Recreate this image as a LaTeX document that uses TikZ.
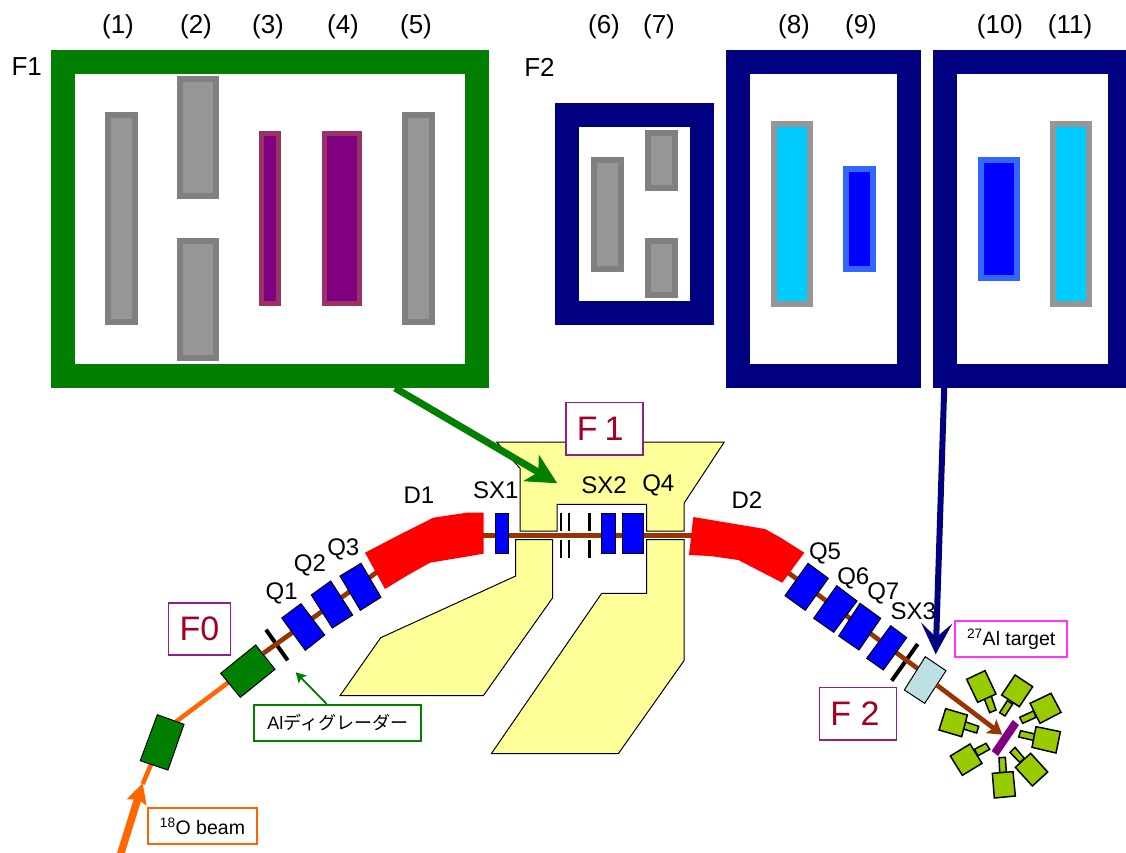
\documentclass[tikz,border=0pt]{standalone}
\usepackage{fontspec}
\setmainfont{Liberation Sans}
\newfontfamily\jpfont{Noto Sans CJK JP}
\usetikzlibrary{arrows.meta}
\definecolor{fgreen}{HTML}{007F00}
\definecolor{fnavy}{HTML}{000080}
\definecolor{gfill}{HTML}{969696}
\definecolor{gedge}{HTML}{808080}
\definecolor{pfill}{HTML}{800080}
\definecolor{pedge}{HTML}{993366}
\definecolor{cfill}{HTML}{00CCFF}
\definecolor{bfill}{HTML}{0000FF}
\definecolor{bedge}{HTML}{3366FF}
\definecolor{yfill}{HTML}{FFFF99}
\definecolor{brown}{HTML}{993300}
\definecolor{orng}{HTML}{FF6600}
\definecolor{dred}{HTML}{A50021}
\definecolor{boxp}{HTML}{8F1F8F}
\definecolor{dfill}{HTML}{99CC00}
\definecolor{lblue}{HTML}{BCE0E4}
\definecolor{magen}{HTML}{FF33FF}
\newcommand{\bxnode}[7]{%
  \pgfmathsetmacro{\bxcx}{(#3+#5)/2}%
  \pgfmathsetmacro{\bxcy}{(#4+#6)/2}%
  \pgfmathsetmacro{\bxw}{#5-#3-#7}%
  \pgfmathsetmacro{\bxh}{#6-#4-#7}%
  \node[#2,draw,line width=#7pt,minimum width=\bxw pt,minimum height=\bxh pt,inner sep=0pt,outer sep=0pt] (#1) at (\bxcx,\bxcy) {};%
}
\tikzset{
  greybar/.style={draw=gedge,fill=gfill},
  purplebar/.style={draw=pedge,fill=pfill},
  cyanbar/.style={draw=gfill,fill=cfill},
  bluebar/.style={draw=bedge,fill=bfill},
  greenframe/.style={draw=fgreen,fill=white},
  navyframe/.style={draw=fnavy,fill=white},
  toplabel/.style={font=\fontsize{26}{26}\selectfont,inner sep=0pt},
  maglabel/.style={font=\fontsize{24}{24}\selectfont,inner sep=0pt},
  flabel/.style={draw=boxp,line width=1.8pt,fill=white,text=dred,font=\fontsize{34}{34}\selectfont,inner sep=0pt,outer sep=0pt},
  textbox/.style={line width=2pt,fill=white,inner sep=0pt,outer sep=0pt},
  kanatext/.style={font=\fontsize{18}{18}\selectfont},
  latintext/.style={font=\fontsize{19.5}{19.5}\selectfont},
  yellowarea/.style={fill=yfill,draw=black,line width=1pt,line join=miter},
  quad/.style={fill=bfill,draw=black,line width=1pt},
  dipole/.style={fill=red},
  gblock/.style={fill=fgreen,draw=black,line width=1pt},
  beamline/.style={draw=brown,line width=4.7pt},
  slit/.style={draw=black,line width=2.7pt},
  thickslit/.style={draw=black,line width=4pt},
  detector/.style={fill=dfill,draw=black,line width=1.5pt},
}
\begin{document}
\begin{tikzpicture}[x=1pt,y=-1pt]
\useasboundingbox (0,0) rectangle (1126,853);
\clip (0,0) rectangle (1126,853);
\fill[white] (0,0) rectangle (1126,853);
% --- upper frames
\bxnode{frameFone}{greenframe}{51}{50}{488.5}{388}{24}
\bxnode{barA}{greybar}{105}{112}{138}{325}{6}
\bxnode{barBa}{greybar}{176.5}{76}{219}{199}{6}
\bxnode{barBb}{greybar}{176.5}{238}{219}{361}{6}
\bxnode{barC}{purplebar}{258.5}{131}{281}{306}{5}
\bxnode{barD}{purplebar}{321.5}{131}{362}{306}{5}
\bxnode{barE}{greybar}{401.5}{112}{435}{325}{6}
\bxnode{frameFtwoA}{navyframe}{554.8}{103.5}{713.5}{325}{24}
\bxnode{barF}{greybar}{590.5}{157}{624}{271.7}{6}
\bxnode{barGa}{greybar}{644.8}{130}{678}{190.7}{6}
\bxnode{barGb}{greybar}{644.8}{238}{678}{298.3}{6}
\bxnode{frameFtwoB}{navyframe}{725.7}{50}{920.6}{388}{24}
\bxnode{barH}{cyanbar}{770.5}{121.3}{813}{307}{6}
\bxnode{barI}{bluebar}{842.8}{166}{876.2}{271.7}{6}
\bxnode{frameFtwoC}{navyframe}{932.8}{50}{1132.4}{388}{24}
\bxnode{barJ}{bluebar}{977.6}{157}{1020}{280.7}{6}
\bxnode{barK}{cyanbar}{1049.5}{121.3}{1092}{307}{6}
\node[toplabel] (l1) at (118,27) {(1)};
\node[toplabel] (l2) at (196,27) {(2)};
\node[toplabel] (l3) at (268,27) {(3)};
\node[toplabel] (l4) at (343,27) {(4)};
\node[toplabel] (l5) at (416,27) {(5)};
\node[toplabel] (l6) at (604,27) {(6)};
\node[toplabel] (l7) at (659,27) {(7)};
\node[toplabel] (l8) at (794,27) {(8)};
\node[toplabel] (l9) at (861,27) {(9)};
\node[toplabel] (l10) at (1000,27) {(10)};
\node[toplabel] (l11) at (1070,27) {(11)};
\node[toplabel] (lFone) at (26.7,67) {F1};
\node[toplabel] (lFtwo) at (539.5,67) {F2};
% --- yellow areas
\draw[yellowarea] (496.7,442) -- (724.3,442) -- (684,503.3) -- (684,531) -- (646.7,531) -- (646.7,504.3) -- (557,504.3) -- (557,531) -- (520,531) -- (520,468.3) -- (508,455) -- cycle;
\draw[yellowarea] (515.7,539.7) -- (552.7,539.7) -- (552.7,597.7) -- (483.3,695.7) -- (340,695.7) -- (380.7,637.7) -- (515.7,576) -- cycle;
\draw[yellowarea] (646.7,539.7) -- (684,539.7) -- (684,660.7) -- (618.3,753.7) -- (491.3,753.7) -- (601.7,593.3) -- (646.7,593.3) -- cycle;
% --- F1 slits
\draw[slit] (561,513.3) -- (561,531);
\draw[slit] (561,540) -- (561,557.7);
\draw[slit] (569,513.3) -- (569,531);
\draw[slit] (569,540) -- (569,557.7);
\draw[slit] (589.3,513.3) -- (589.3,531);
\draw[slit] (589.3,540) -- (589.3,557.7);
% --- slits on the bends
\draw[thickslit] (266,629.7) -- (287.7,660.3);
\draw[thickslit] (917.7,644) -- (891.7,680.7);
% --- beam line
\draw[beamline] (263.3,653.3) -- (380,570);
\draw[beamline] (480,535.7) -- (695,535.7);
\draw[beamline] (786,571) -- (925,674);
% --- beam feed
\coordinate (orngA) at (151.7,762.7);
\coordinate (orngB) at (176,721.7);
\coordinate (orngC) at (229.3,681.7);
\draw[orng,line width=4.5pt] (orngA) -- (142.7,784);
\draw[orng,line width=4.5pt] (orngB) -- (orngC);
\coordinate (beamstart) at (120,856);
\coordinate (beamtip) at (142.7,783);
\draw[orng,line width=7.5pt,-{Stealth[length=20pt,width=20pt,inset=3pt]}] (beamstart) -- (beamtip);
% --- magnets
\draw[gblock] (255.7,645) -- (275,669.3) -- (240.3,697.3) -- (220.7,673.3) -- cycle;
\draw[gblock] (157.3,714.7) -- (184,724.3) -- (168,770) -- (140.3,760.7) -- cycle;
\draw[quad] (301,603.7) -- (324.7,635) -- (305.3,650.3) -- (281.7,618) -- cycle;
\draw[quad] (330.7,581) -- (352.7,615) -- (332.3,628) -- (311.3,595) -- cycle;
\draw[quad] (361,563.3) -- (381,597.3) -- (360.3,610.3) -- (340,576) -- cycle;
\fill[dipole] (365,552.7) -- (400,534.5) -- (433.3,517.7) -- (466.7,512.7) -- (483.7,512.7) -- (483.7,553.7) -- (430,562.7) -- (408,575) -- (385,589) -- cycle;
\fill[dipole] (693.3,517) -- (765,529) -- (780,537.3) -- (804.3,552.7) -- (782.3,582.7) -- (738.3,560) -- (710,556) -- (689,555) -- cycle;
\draw[quad] (495.3,513) rectangle (508.7,553.7);
\draw[quad] (601.3,513) rectangle (615,553.7);
\draw[quad] (622.3,513) rectangle (643.3,553.7);
\draw[quad] (808,563.3) -- (828.3,578.3) -- (805.3,610.3) -- (785,595.7) -- cycle;
\draw[quad] (836.7,585.7) -- (857,601) -- (833.7,632.3) -- (813.7,618.3) -- cycle;
\draw[quad] (860,603.3) -- (880.7,618.3) -- (859,650) -- (838.7,636) -- cycle;
\draw[quad] (890.7,625.7) -- (906.7,637.7) -- (883.3,670) -- (866.7,658.3) -- cycle;
\draw[fill=lblue,draw=black,line width=1pt] (925.3,656.7) -- (946,670.7) -- (924.7,703.3) -- (904.3,690) -- cycle;
% --- beam to target
\coordinate (beamout) at (936.7,685);
\coordinate (targettip) at (1002.3,734.7);
\draw[brown,line width=4.7pt,-{Stealth[length=14pt,width=17pt,inset=3pt]}] (beamout) -- (targettip);
% --- target and detectors (in 1/3 pixel units)
\begin{scope}[shift={(920,660)},x=0.33333pt,y=-0.33333pt]
\fill[pfill] (278,180) -- (297,195) -- (234,288) -- (215,273) -- cycle;
\draw[detector] (192,115) -- (213,105) -- (228,150) -- (209,158) -- cycle;
\draw[detector] (195,32) -- (228,102) -- (173,127) -- (140,58) -- cycle;
\draw[detector] (262,122) -- (278,132) -- (255,168) -- (239,158) -- cycle;
\draw[detector] (285,45) -- (338,80) -- (298,140) -- (245,105) -- cycle;
\draw[detector] (340,153) -- (348,172) -- (308,190) -- (299,172) -- cycle;
\draw[detector] (393,100) -- (423,157) -- (360,190) -- (330,130) -- cycle;
\draw[detector] (302,212) -- (345,222) -- (340,241) -- (296,231) -- cycle;
\draw[detector] (348,200) -- (421,215) -- (408,279) -- (336,262) -- cycle;
\draw[detector] (285,262) -- (313,295) -- (299,307) -- (270,277) -- cycle;
\draw[detector] (332,280) -- (383,336) -- (337,378) -- (286,322) -- cycle;
\draw[detector] (237,293) -- (256,292) -- (259,337) -- (239,338) -- cycle;
\draw[detector] (217,340) -- (279,335) -- (286,408) -- (223,414) -- cycle;
\draw[detector] (163,268) -- (198,250) -- (209,268) -- (174,287) -- cycle;
\draw[detector] (150,252) -- (186,310) -- (127,346) -- (91,288) -- cycle;
\draw[detector] (135,185) -- (176,199) -- (170,219) -- (130,207) -- cycle;
\draw[detector] (77,146) -- (142,165) -- (125,230) -- (57,210) -- cycle;
\end{scope}
% --- magnet labels
\node[maglabel] (tQone) at (281.7,593.3) {Q1};
\node[maglabel] (tQtwo) at (310,565.7) {Q2};
\node[maglabel] (tQthree) at (343.3,549.3) {Q3};
\node[maglabel] (tDone) at (419,495) {D1};
\node[maglabel] (tSXone) at (495.7,490.7) {SX1};
\node[maglabel] (tSXtwo) at (604,485.7) {SX2};
\node[maglabel] (tQfour) at (658.3,485.7) {Q4};
\node[maglabel] (tDtwo) at (747,500) {D2};
\node[maglabel] (tQfive) at (825,553.3) {Q5};
\node[maglabel] (tQsix) at (853.3,578.3) {Q6};
\node[maglabel] (tQseven) at (883.3,593.3) {Q7};
\node[maglabel] (tSXthree) at (913.3,611) {SX3};
% --- boxes
\node[flabel,minimum width=77pt,minimum height=52.8pt] (boxFone) at (604.3,428.8) {F\hspace{7pt}1\hspace*{8pt}};
\node[flabel,minimum width=62pt,minimum height=52.5pt] (boxFzero) at (199.5,629) {F0};
\node[flabel,minimum width=77pt,minimum height=52.2pt] (boxFtwo) at (858,713.5) {F 2\hspace*{6pt}};
\node[textbox,kanatext,draw=fgreen,minimum width=167pt,minimum height=36pt] (boxAl) at (337.8,723) {Al{\jpfont ディグレーダー}};
\node[textbox,latintext,draw=orng,minimum width=109pt,minimum height=36pt] (boxO) at (202.5,826.3) {\textsuperscript{18}O beam};
\node[textbox,latintext,draw=magen,minimum width=112.3pt,minimum height=36pt] (boxT) at (1011.2,639.3) {\textsuperscript{27}Al target};
% --- connectors
\coordinate (greenstart) at (395,388);
\coordinate (greentip) at (557.3,483.3);
\draw[fgreen,line width=7pt,-{Stealth[length=30pt,width=30pt,inset=8pt]}] (greenstart) -- (greentip);
\coordinate (alstart) at (326.7,704);
\coordinate (altip) at (295.7,672.3);
\draw[fgreen,line width=1.8pt,-{Stealth[length=10pt,width=11pt,inset=2pt]}] (alstart) -- (altip);
\coordinate (navystart) at (944.2,388);
\coordinate (navytip) at (935.7,654.3);
\draw[fnavy,line width=6pt,-{Stealth[length=31pt,width=31pt,inset=14pt]}] (navystart) -- (navytip);
\end{tikzpicture}
\end{document}
